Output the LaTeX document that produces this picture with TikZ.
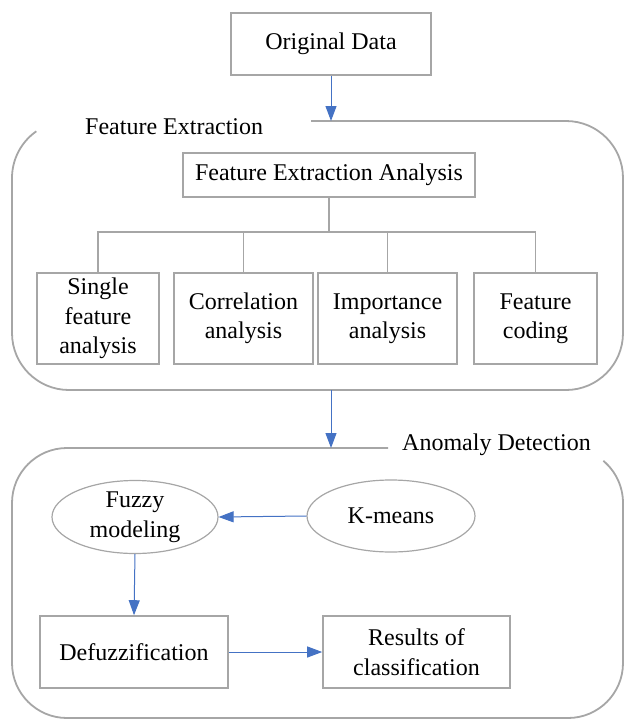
\documentclass[tikz,border=0pt]{standalone}
\usepackage{fontspec}
\setmainfont{Liberation Serif}
\usetikzlibrary{arrows.meta,shapes.geometric}
\definecolor{boxgray}{RGB}{166,166,166}
\definecolor{arrblue}{RGB}{68,114,196}
\tikzset{
  box/.style={draw=boxgray, line width=1.6pt, align=center, inner sep=0pt,
    font=\fontsize{24}{29.5}\selectfont},
  oval/.style={draw=boxgray, line width=1.2pt, ellipse, align=center, inner sep=0pt,
    font=\fontsize{24}{29.5}\selectfont},
  lbl/.style={inner sep=0pt, anchor=west, font=\fontsize{24}{29.5}\selectfont},
  frame/.style={draw=boxgray, line width=1.8pt},
  tree/.style={draw=boxgray, line width=1.8pt},
  flow/.style={draw=arrblue, line width=1pt, -{Triangle[length=15pt,width=11pt]}},
}
\begin{document}
\begin{tikzpicture}[x=1pt,y=1pt]
\useasboundingbox (0,0) rectangle (625,-720);

% containers
\draw[frame] (311,-121) -- (566,-121) arc[start angle=90,end angle=0,radius=57]
  -- (623,-333) arc[start angle=0,end angle=-90,radius=57]
  -- (69,-390) arc[start angle=270,end angle=180,radius=57]
  -- (12,-178) arc[start angle=180,end angle=125,radius=57];
\draw[frame] (388,-448) -- (67,-448) arc[start angle=90,end angle=180,radius=55]
  -- (12,-663) arc[start angle=180,end angle=270,radius=55]
  -- (568,-718) arc[start angle=270,end angle=360,radius=55]
  -- (623,-503) arc[start angle=0,end angle=50,radius=55];

\node[lbl] (lfe) at (85,-127) {Feature Extraction};
\node[lbl] (lad) at (402,-445) {Anomaly Detection};

\coordinate (c1t) at (331,-121);
\coordinate (c1b) at (331,-390);
\coordinate (c2t) at (331,-448);

% nodes
\node[box, minimum width=200pt, minimum height=62pt] (od) at (331,-44) {Original Data};
\node[box, minimum width=292pt, minimum height=44pt] (fea) at (329,-175) {Feature Extraction Analysis};
\node[box, minimum width=122pt, minimum height=91pt] (b1) at (98,-318.5) {Single\\feature\\analysis};
\node[box, minimum width=139pt, minimum height=91pt] (b2) at (243.5,-318.5) {Correlation\\analysis};
\node[box, minimum width=139pt, minimum height=91pt] (b3) at (387.5,-318.5) {Importance\\analysis};
\node[box, minimum width=123pt, minimum height=91pt] (b4) at (535.5,-318.5) {Feature\\coding};

\node[oval, minimum width=166pt, minimum height=73pt] (fz) at (135,-517) {Fuzzy\\modeling};
\node[oval, minimum width=168pt, minimum height=72pt] (km) at (391,-516) {K-means};
\node[box, minimum width=188pt, minimum height=72pt] (df) at (134,-652) {Defuzzification};
\node[box, minimum width=187pt, minimum height=72pt] (rc) at (416.5,-652) {Results of\\classification};

% tree
\coordinate (hj) at (329,-232);
\draw[tree] (fea.south) -- (hj);
\draw[tree] (b1.north) -- (b1.north |- hj) -- (b4.north |- hj) -- (b4.north);
\draw[tree] (b2.north) -- (b2.north |- hj);
\draw[tree] (b3.north) -- (b3.north |- hj);

% arrows
\draw[flow] (od.south) -- (c1t);
\draw[flow] (c1b) -- (c2t);
\draw[flow] (km.west) -- (fz.east);
\draw[flow] (fz.south) -- (df.north);
\draw[flow] (df.east) -- (rc.west);
\end{tikzpicture}
\end{document}
